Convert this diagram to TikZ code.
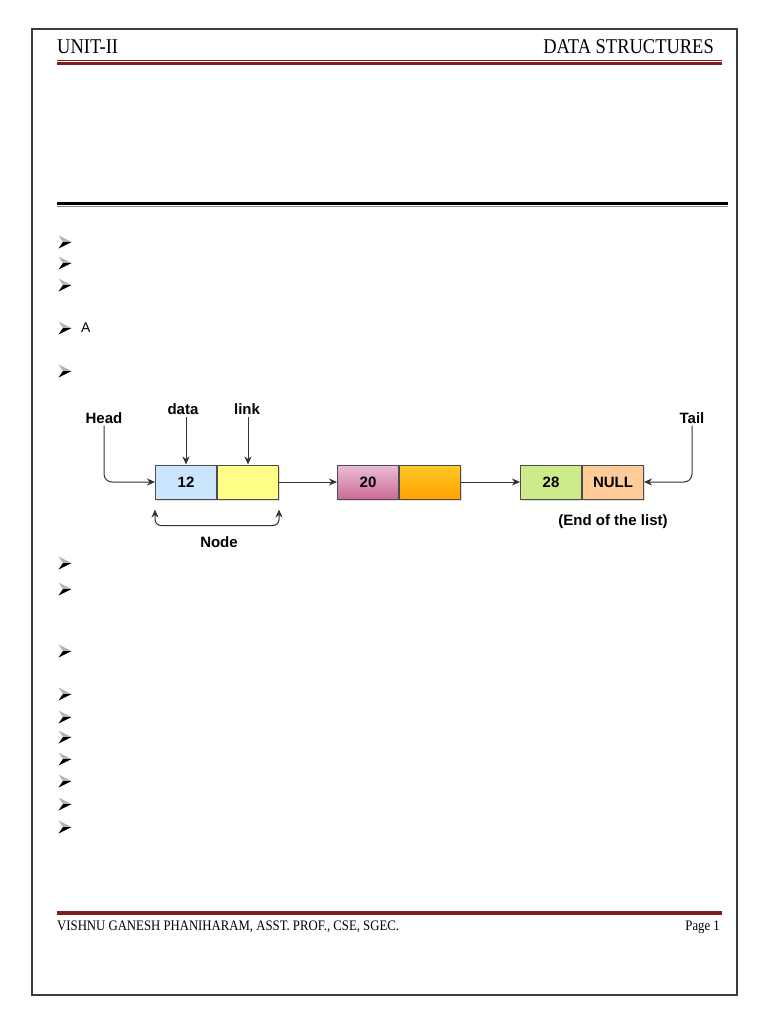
\documentclass[tikz,border=0pt]{standalone}
\usepackage{fontspec}
\setmainfont{Liberation Serif}
\newfontfamily\hdrfont[FakeStretch=0.88]{Liberation Serif}
\newfontfamily\dgfont{Liberation Sans}
\usetikzlibrary{arrows.meta,shadows}
\definecolor{rulered}{RGB}{122,30,32}
\definecolor{frame}{RGB}{60,60,60}
\definecolor{c1a}{RGB}{204,229,255}
\definecolor{c1b}{RGB}{255,255,136}
\definecolor{c2atop}{RGB}{232,190,212}
\definecolor{c2abot}{RGB}{205,105,152}
\definecolor{c2btop}{RGB}{255,200,40}
\definecolor{c2bbot}{RGB}{255,163,0}
\definecolor{c3a}{RGB}{205,235,139}
\definecolor{c3b}{RGB}{255,204,153}
\begin{document}
\begin{tikzpicture}[x=1pt,y=-1pt,
  tip/.style={},
  conn/.style={draw=black!80, line width=1pt, -{Stealth[length=8pt,width=7pt,inset=2.5pt]}},
  cell/.style={draw=black!70, line width=1pt, minimum width=61pt, minimum height=34pt,
    inner sep=0pt, anchor=west, font=\dgfont\bfseries\fontsize{15}{17}\selectfont,
    drop shadow={opacity=0.25, shadow xshift=1.2pt, shadow yshift=-1.5pt}},
  lbl/.style={font=\dgfont\bfseries\fontsize{15}{18}\selectfont, inner sep=2pt},
  hdr/.style={font=\hdrfont\fontsize{21}{24}\selectfont, inner sep=0pt},
  ftr/.style={font=\hdrfont\fontsize{14.5}{17}\selectfont, inner sep=0pt},
  bul/.pic={
    \fill[black!30] (-6.5,-6.5) -- (6.5,0) -- (-2,0) -- cycle;
    \fill[black] (-2,0) -- (6.5,0) -- (-6.5,6.5) -- cycle;
  }]
\useasboundingbox (0,0) rectangle (768,1024);
\fill[white] (0,0) rectangle (768,1024);
% page frame
\draw[draw=frame, line width=2pt] (31.5,29.5) rectangle (736.5,994.5);
% header
\node[hdr, anchor=base west] (unit) at (57,54) {UNIT-II};
\node[hdr, anchor=base east] (subj) at (714,54) {DATA STRUCTURES};
\draw[rulered, line width=1.2pt] (57,60.5) -- (722,60.5);
\draw[rulered, line width=3pt] (57,64) -- (722,64);
% black divider
\draw[black, line width=3.5pt] (57,203.5) -- (728,203.5);
\draw[black!45, line width=1.5pt] (57,206.5) -- (728,206.5);
% bullets
\foreach \yy in {242,263,285,328,371,563,589,651,694,717,737,759,781,804,827}
  \pic at (65,\yy) {bul};
\node[font=\dgfont\fontsize{14}{16}\selectfont, anchor=west, inner sep=0pt] (aword) at (81,328) {A};
% diagram
\node[cell, fill=c1a] (n1a) at (155,482) {12};
\node[cell, fill=c1b] (n1b) at (n1a.east) {};
\node[cell, top color=c2atop, bottom color=c2abot] (n2a) at (337,482) {20};
\node[cell, top color=c2btop, bottom color=c2bbot] (n2b) at (n2a.east) {};
\node[cell, fill=c3a] (n3a) at (520,482) {28};
\node[cell, fill=c3b] (n3b) at (n3a.east) {NULL};
\node[lbl] (head) at (104,418) {Head};
\node[lbl] (data) at (183,409) {data};
\node[lbl] (link) at (247,409) {link};
\node[lbl] (tail) at (692,418) {Tail};
\node[lbl] (nodelbl) at (219,542) {Node};
\node[lbl] (endlbl) at (613,522) {(End of the list)};
\draw[conn, rounded corners=8pt] (head.south) |- (n1a.west);
\draw[conn] (n1a.north |- data.south) -- (n1a.north);
\draw[conn] (n1b.north |- link.south) -- (n1b.north);
\draw[conn] (n1b.east) -- (n2a.west);
\draw[conn] (n2b.east) -- (n3a.west);
\draw[conn, rounded corners=8pt] (tail.south) |- (n3b.east);
\draw[draw=black!80, line width=1pt, {Stealth[length=8pt,width=7pt,inset=2.5pt]}-{Stealth[length=8pt,width=7pt,inset=2.5pt]}, rounded corners=6pt]
  ([yshift=-10pt]n1a.south west) -- ([yshift=-26pt]n1a.south west)
  -- ([yshift=-26pt]n1b.south east) -- ([yshift=-10pt]n1b.south east);
% footer
\draw[rulered, line width=4pt] (57,913) -- (722,913);
\node[ftr, anchor=base west] (author) at (57,930) {VISHNU GANESH PHANIHARAM, ASST. PROF., CSE, SGEC.};
\node[ftr, anchor=base east] (page) at (720,930) {Page 1};
\end{tikzpicture}
\end{document}
